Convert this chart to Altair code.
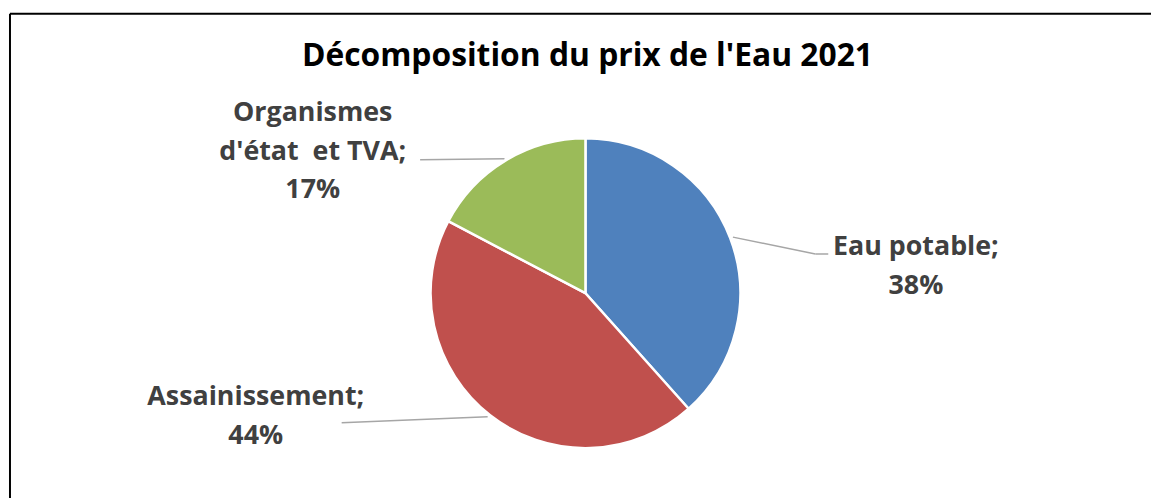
import math
import altair as alt
import pandas as pd

# ---- data ----
categories = ["Eau potable", "Assainissement", "Organismes d'état et TVA"]
shares = [38.4, 44.3, 17.3]
pct_labels = ["38%", "44%", "17%"]
label_lines = [
    "Eau potable;\n38%",
    "Assainissement;\n44%",
    "Organismes\nd'état\u00a0 et TVA;\n17%",
]
colors = ["#4F81BD", "#C0504D", "#9BBB59"]

total = sum(shares)
cum = []
acc = 0.0
for v in shares:
    cum.append(acc + v / 2)
    acc += v

df = pd.DataFrame({
    "idx": list(range(len(categories))),
    "category": categories,
    "value": shares,
    "mid": cum,
    "label": label_lines,
})

# ---- layout (pixels, in plot-area coordinates) ----
W, H = 1151, 490
CX, CY = 579.5, 281.5
R = 156
label_offsets = {  # dx, dy of first text line from slice edge midpoint
    "Eau potable": (187, 9),
    "Assainissement": (-236, -18),
    "Organismes d'état et TVA": (-194, -48),
}
leaders = pd.DataFrame({
    "x": [728, 811, 413, 334],
    "y": [225, 242, 147, 412],
    "x2": [811, 824, 498, 481],
    "y2": [242, 242, 146, 406],
})

FONT = "Open Sans"

pie = alt.Chart(df).mark_arc(outerRadius=R, stroke="white", strokeWidth=2.5).encode(
    theta=alt.Theta("value:Q", stack=True),
    order=alt.Order("idx:Q"),
    color=alt.Color("category:N", scale=alt.Scale(domain=categories, range=colors), legend=None),
    x=alt.value(CX),
    y=alt.value(CY),
)

text_layers = []
for cat in categories:
    dx, dy = label_offsets[cat]
    sub = df[df["category"] == cat]
    t = alt.Chart(sub).mark_text(
        radius=R, dx=dx, dy=dy, font=FONT, fontSize=27, fontWeight="bold",
        color="#404040", align="center", baseline="middle", lineBreak="\n", lineHeight=39,
    ).encode(
        theta=alt.Theta("mid:Q", scale=alt.Scale(domain=[0, total], range=[0, 2 * math.pi])),
        text="label:N",
        x=alt.value(CX),
        y=alt.value(CY),
    )
    text_layers.append(t)

lead = alt.Chart(leaders).mark_rule(color="#A6A6A6", strokeWidth=1.5).encode(
    x=alt.X("x:Q", scale=None),
    y=alt.Y("y:Q", scale=None),
    x2="x2:Q",
    y2="y2:Q",
)

title = alt.Chart(pd.DataFrame({"t": ["Décomposition du prix de l'Eau 2021"]})).mark_text(
    font=FONT, fontSize=32, fontWeight="bold", color="#000000", align="center", baseline="alphabetic"
).encode(text="t:N", x=alt.value(CX + 2), y=alt.value(53))

border_left = alt.Chart(pd.DataFrame({"a": [0]})).mark_rule(color="#000000", strokeWidth=2).encode(
    x=alt.value(0), y=alt.value(0), y2=alt.value(H)
)
border_top = alt.Chart(pd.DataFrame({"a": [0]})).mark_rule(color="#000000", strokeWidth=2).encode(
    y=alt.value(0), x=alt.value(0), x2=alt.value(W)
)

chart = alt.layer(
    border_left, border_top, lead, pie, *text_layers, title
).resolve_scale(theta="independent").properties(
    width=W,
    height=H,
    padding={"left": 1, "top": 3, "right": 0, "bottom": 0},
    autosize=alt.AutoSizeParams(type="fit", contains="padding"),
    background="white",
).configure_view(stroke=None)

chart.save("out.html", embed_options={"renderer": "svg", "actions": False})
